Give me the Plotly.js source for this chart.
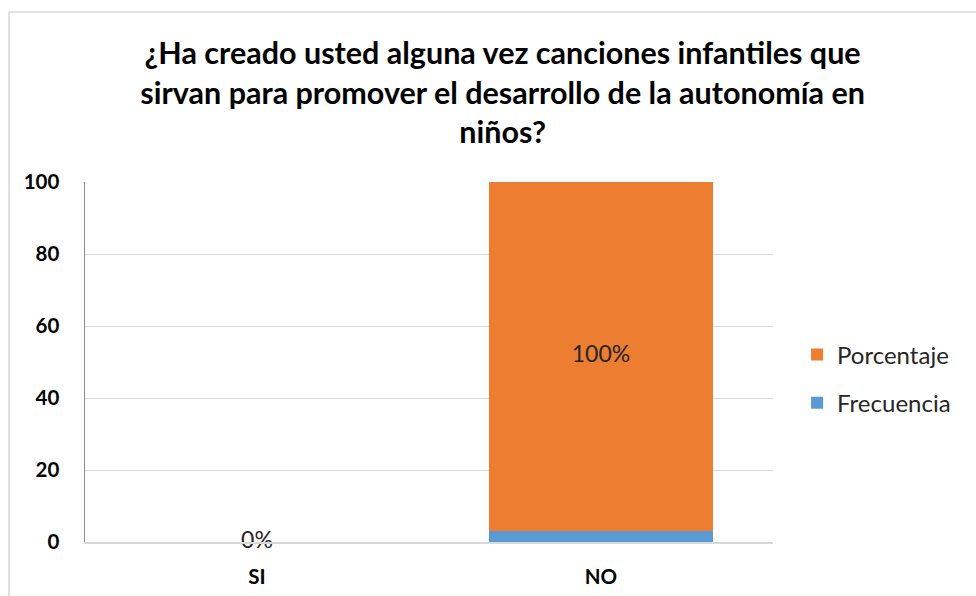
<!DOCTYPE html>
<html>
<head>
<meta charset="utf-8">
<script src="https://cdn.plot.ly/plotly-3.0.1.min.js"></script>
<style>html,body{margin:0;padding:0;background:#fff;}#chart{width:976px;height:596px;}</style>
</head>
<body>
<div id="chart"></div>
<script>
const categories = ["SI", "NO"];
const frecuencia = [0, 3];
const porcentaje = [0, 100];
const porcentajeLabels = ["0%", "100%"];
const yTicks = [0, 20, 40, 60, 80, 100];
const yMax = 100;

// label placed at the middle of the visible part of the Porcentaje segment
const labelY = porcentaje.map((v, i) => (frecuencia[i] + Math.min(frecuencia[i] + v, yMax)) / 2);

const traces = [
  {
    type: "bar", name: "Frecuencia", x: categories, y: frecuencia,
    marker: {color: "#5B9BD5"}, legendrank: 2, legendgroup: "f", hoverinfo: "skip"
  },
  {
    type: "bar", name: "Porcentaje", x: categories, y: porcentaje,
    marker: {color: "#ED7D31"}, legendrank: 1, legendgroup: "p", hoverinfo: "skip"
  },
  {
    type: "scatter", mode: "text", x: categories, y: labelY, text: porcentajeLabels,
    textposition: "middle center", showlegend: false, cliponaxis: false,
    textfont: {family: "Lato, 'Open Sans', sans-serif", size: 23, color: "#262626"},
    hoverinfo: "skip"
  }
];

const layout = {
  width: 976, height: 596,
  margin: {l: 85, r: 203, t: 182, b: 54},
  paper_bgcolor: "#ffffff", plot_bgcolor: "#ffffff",
  barmode: "stack", bargap: 0.35,
  title: {
    text: "¿Ha creado usted alguna vez canciones infantiles que<br>sirvan para promover el desarrollo de la autonomía en<br>niños?",
    font: {family: "Lato, 'Open Sans', sans-serif", size: 30.5, color: "#000000", weight: "bold"},
    x: 0.515, xanchor: "center", xref: "container",
    y: 1 - 64/596, yanchor: "top", yref: "container"
  },
  xaxis: {
    type: "category",
    tickfont: {family: "Lato, 'Open Sans', sans-serif", size: 20.5, color: "#000000", weight: "bold"},
    showgrid: false, showline: true, linecolor: "#D9D9D9", linewidth: 1.5,
    ticks: "", ticklabelstandoff: 16, zeroline: false, fixedrange: true
  },
  yaxis: {
    range: [0, yMax], tickvals: yTicks, ticktext: yTicks.map(String),
    tickfont: {family: "Lato, 'Open Sans', sans-serif", size: 20.5, color: "#000000", weight: "bold"},
    showgrid: true, gridcolor: "#D9D9D9", gridwidth: 1,
    showline: true, linecolor: "#8C8C8C", linewidth: 1.5,
    zeroline: false, ticks: "", ticklabelstandoff: 20, fixedrange: true
  },
  legend: {
    x: 1.035, xanchor: "left", y: 0.453, yanchor: "middle",
    traceorder: "grouped", tracegroupgap: 14,
    font: {family: "Lato, 'Open Sans', sans-serif", size: 24, color: "#262626"},
    bgcolor: "rgba(0,0,0,0)", itemwidth: 30
  },
  shapes: [{
    type: "rect", xref: "paper", yref: "paper",
    x0: (9 - 85) / 688, x1: 2, y0: -0.5, y1: (542 - 12) / 360,
    line: {color: "#D9D9D9", width: 1.5}, fillcolor: "rgba(0,0,0,0)", layer: "above"
  }],
  showlegend: true
};

Plotly.newPlot("chart", traces, layout, {displayModeBar: false, staticPlot: true});
</script>
</body>
</html>
